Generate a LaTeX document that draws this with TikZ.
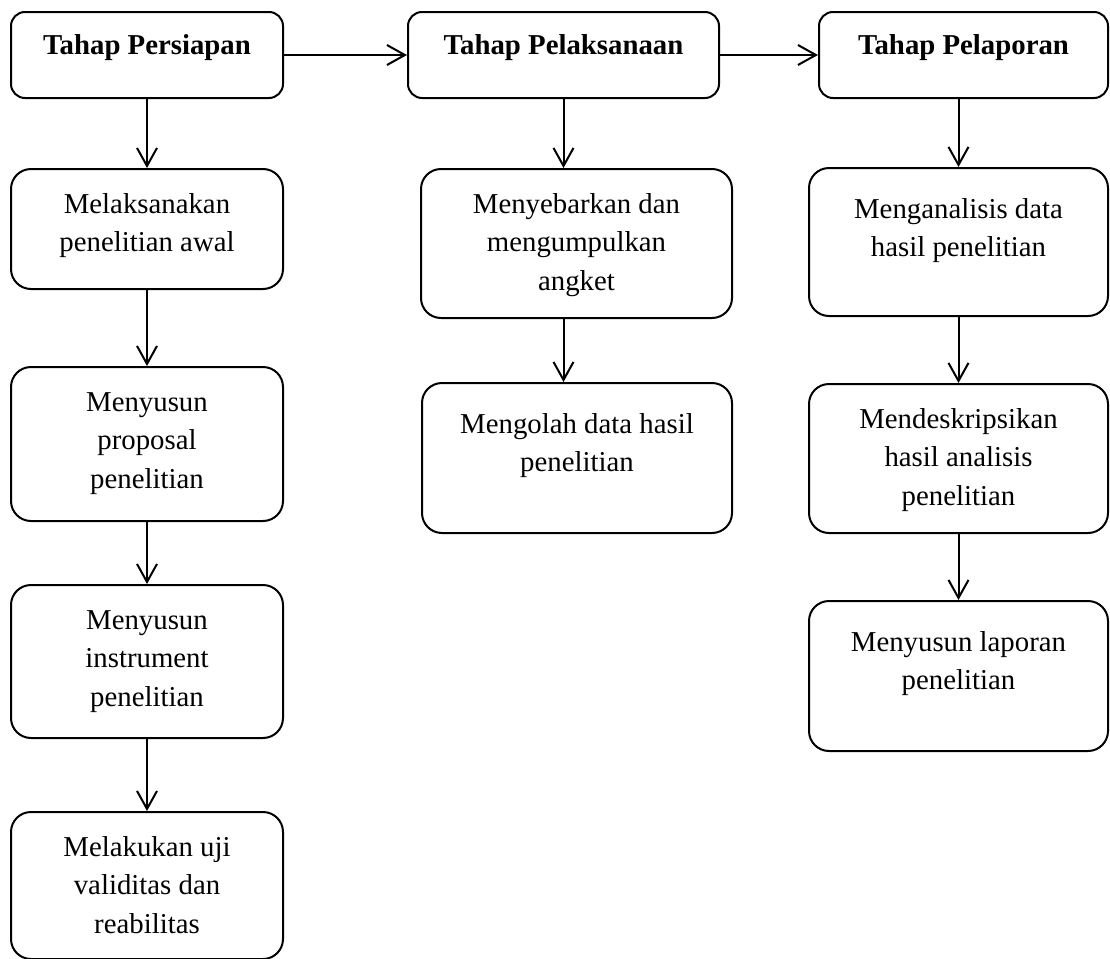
\documentclass[tikz,border=0pt]{standalone}
\usepackage{fontspec}
\setmainfont{Liberation Serif}
\usetikzlibrary{arrows.meta}
\begin{document}
\begin{tikzpicture}[x=0.5pt, y=-0.5pt, line width=1pt,
    stepbox/.style={draw, rounded corners=10pt, anchor=north, align=flush center,
      inner xsep=0pt, inner ysep=0pt, text width=#1, text height=22pt,
      font=\fontsize{14.4}{19.3}\selectfont},
    tahap/.style={stepbox=#1, rounded corners=7pt, text height=21pt,
      text depth=22pt, font=\fontsize{14.4}{19.3}\selectfont\bfseries}]
  \useasboundingbox (0,0) rectangle (1110,959);
  \node[tahap=136pt] (t1) at (147,11) {Tahap Persiapan};
  \node[tahap=155.5pt] (t2) at (563.5,11) {Tahap Pelaksanaan};
  \node[tahap=144.5pt] (t3) at (963.5,11) {Tahap Pelaporan};
  \node[stepbox=136pt, text depth=38pt] (p1) at (147,168) {Melaksanakan\\penelitian awal};
  \node[stepbox=136pt, text depth=55pt] (p2) at (147,366) {Menyusun\\proposal\\penelitian};
  \node[stepbox=136pt, text depth=54.5pt] (p3) at (147,584) {Menyusun\\instrument\\penelitian};
  \node[stepbox=136pt, text depth=51.5pt] (p4) at (147,811) {Melakukan uji\\validitas dan\\reabilitas};
  \node[stepbox=155.5pt, text depth=52.5pt] (l1) at (576.5,168) {Menyebarkan dan\\mengumpulkan\\angket};
  \node[stepbox=155pt, text height=25pt, text depth=50pt] (l2) at (577,382) {Mengolah data hasil\\penelitian};
  \node[stepbox=149.5pt, text height=25pt, text depth=49pt] (r1) at (958.5,167) {Menganalisis data\\hasil penelitian};
  \node[stepbox=149.5pt, text depth=52.5pt] (r2) at (958.5,383) {Mendeskripsikan\\hasil analisis\\penelitian};
  \node[stepbox=149.5pt, text height=25pt, text depth=50pt] (r3) at (958.5,600) {Menyusun laporan\\penelitian};
  \begin{scope}[-{Straight Barb[length=9pt,width=10pt]}]
    \draw (t1) -- (t2);
    \draw (t2) -- (t3);
    \draw (t1) -- (p1);
    \draw (p1) -- (p2);
    \draw (p2) -- (p3);
    \draw (p3) -- (p4);
    \draw (t2.south) -- (t2.south |- l1.north);
    \draw (l1.south -| t2) -- (l2.north -| t2);
    \draw (r1.north |- t3.south) -- (r1.north);
    \draw (r1) -- (r2);
    \draw (r2) -- (r3);
  \end{scope}
\end{tikzpicture}
\end{document}
